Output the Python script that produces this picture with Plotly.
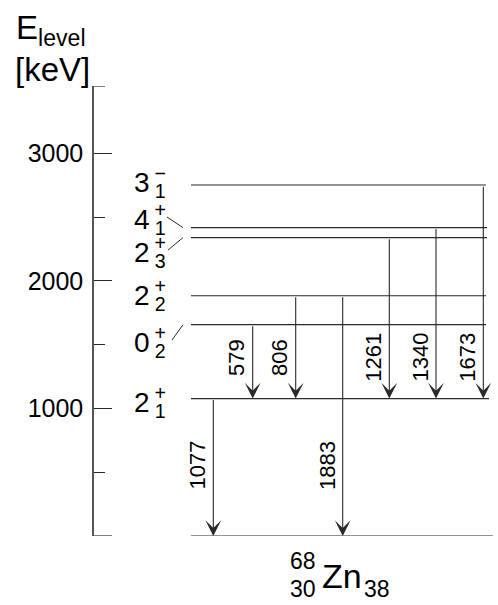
import plotly.graph_objects as go

# Level scheme of 68Zn
level_energy = [0, 1077, 1656, 1883, 2339, 2417, 2751]   # keV
level_spin = ["0", "2", "0", "2", "2", "4", "3"]
level_parity = ["+", "+", "+", "+", "+", "+", "\u2212"]
level_index = ["1", "1", "2", "2", "3", "1", "1"]

# gamma transitions: energy (keV) and final level energy (keV)
gamma_energy = [579, 806, 1261, 1340, 1673, 1077, 1883]
gamma_final = [1077, 1077, 1077, 1077, 1077, 0, 0]

# y-axis ticks
tick_vals = [1000, 2000, 3000]
tick_text = ["1000", "2000", "3000"]
minor_vals = [500, 1500, 2500]

# ---- layout helpers (x axis is in pixel-like units) ----
X0, X1 = 94, 493
Y_TOP, Y_BOT = 86, 536
E_MAX = 3527
LEVEL_X0 = 191
LEVEL_X1 = [493, 489, 486, 486, 487, 487, 486]
GAMMA_X = [252.7, 295.7, 389.3, 436.0, 483.3, 213.3, 342.7]
LABEL_E = [-47, 1066, 1536, 1904, 2241, 2500, 2790]    # vertical placement of spin labels
GAMMA_LABEL_E = {1077: 1400, 0: 555}
CONNECT = {2: (172, 183), 4: (168, 183), 5: (167, 183)}  # levels whose label sits off the line

FONT = "Liberation Sans, Arial, Helvetica, sans-serif"
LINE = "#2a2a2a"


def px(xp):
    return (xp - X0) / (X1 - X0)


def py(yp):
    return (Y_BOT - yp) / (Y_BOT - Y_TOP)


fig = go.Figure()

# level lines
for e, xe in zip(level_energy, LEVEL_X1):
    fig.add_trace(go.Scatter(x=[LEVEL_X0, xe], y=[e, e], mode="lines",
                             line=dict(color=LINE, width=1.2),
                             hoverinfo="skip", showlegend=False))

annotations = []

# transitions (arrows) with rotated energy labels
for eg, ef, xg in zip(gamma_energy, gamma_final, GAMMA_X):
    annotations.append(dict(
        x=xg, y=ef, ax=xg, ay=ef + eg, xref="x", yref="y", axref="x", ayref="y",
        text="", showarrow=True, arrowhead=3, arrowsize=2.4, arrowwidth=1.1,
        arrowcolor=LINE, standoff=0, startstandoff=0))
    annotations.append(dict(
        x=xg - 16, y=GAMMA_LABEL_E[ef], xref="x", yref="y", text=str(eg),
        textangle=-90, showarrow=False, xanchor="center", yanchor="middle",
        font=dict(family=FONT, size=22, color="black")))

# spin/parity labels J^pi_n, superscript stacked over the subscript
for j, p, n, le in zip(level_spin, level_parity, level_index, LABEL_E):
    txt = (f'<span style="letter-spacing:5px">{j}</span>'
           f'<sup><span style="letter-spacing:-11.4px">{p}</span></sup>'
           f'<sub>{n}</sub>')
    annotations.append(dict(x=132, y=le, xref="x", yref="y", text=txt,
                            showarrow=False, xanchor="left", yanchor="middle",
                            yshift=-2,
                            font=dict(family=FONT, size=28, color="black")))

shapes = []
for i, (xa, xb) in CONNECT.items():
    shapes.append(dict(type="line", xref="x", yref="y", x0=xa, y0=LABEL_E[i],
                       x1=xb, y1=level_energy[i], line=dict(color=LINE, width=1)))

# end ticks of the energy axis (0 keV and top of the axis)
shapes.append(dict(type="line", xref="x", yref="y", x0=X0, x1=X0 + 18, y0=0, y1=0,
                   line=dict(color=LINE, width=1.2)))
shapes.append(dict(type="line", xref="x", yref="y", x0=X0, x1=X0 + 11, y0=E_MAX, y1=E_MAX,
                   line=dict(color=LINE, width=1.2)))

# axis title
annotations += [
    dict(x=px(14), y=py(30), xref="paper", yref="paper", text="E<sub>level</sub>",
         showarrow=False, xanchor="left", yanchor="middle",
         font=dict(family=FONT, size=33, color="black")),
    dict(x=px(13), y=py(69), xref="paper", yref="paper", text="[keV]", showarrow=False,
         xanchor="left", yanchor="middle", font=dict(family=FONT, size=33, color="black")),
]

# nuclide label  ^68_30 Zn_38
annotations += [
    dict(x=px(320), y=py(576), xref="paper", yref="paper", text="Zn", showarrow=False,
         xanchor="left", yanchor="middle", font=dict(family=FONT, size=34, color="black")),
    dict(x=px(318), y=py(561), xref="paper", yref="paper", text="68", showarrow=False,
         xanchor="right", yanchor="middle", font=dict(family=FONT, size=23, color="black")),
    dict(x=px(318), y=py(589), xref="paper", yref="paper", text="30", showarrow=False,
         xanchor="right", yanchor="middle", font=dict(family=FONT, size=23, color="black")),
    dict(x=px(362), y=py(589), xref="paper", yref="paper", text="38", showarrow=False,
         xanchor="left", yanchor="middle", font=dict(family=FONT, size=23, color="black")),
]

fig.update_layout(
    width=498, height=605,
    margin=dict(l=X0, r=498 - X1, t=Y_TOP, b=605 - Y_BOT, pad=0),
    paper_bgcolor="white", plot_bgcolor="white",
    showlegend=False,
    annotations=annotations, shapes=shapes,
    xaxis=dict(range=[X0, X1], visible=False, fixedrange=True),
    yaxis=dict(range=[0, E_MAX], showgrid=False, zeroline=False,
               showline=True, linecolor="#555555", linewidth=1.5,
               ticks="inside", ticklen=18, tickwidth=1.2, tickcolor=LINE,
               tickvals=tick_vals, ticktext=tick_text,
               ticklabelstandoff=4,
               tickfont=dict(family=FONT, size=25, color="black"),
               minor=dict(tickvals=minor_vals, ticks="inside", ticklen=11,
                          tickwidth=1.2, tickcolor=LINE, showgrid=False),
               fixedrange=True),
)

fig.write_html("out.html")
